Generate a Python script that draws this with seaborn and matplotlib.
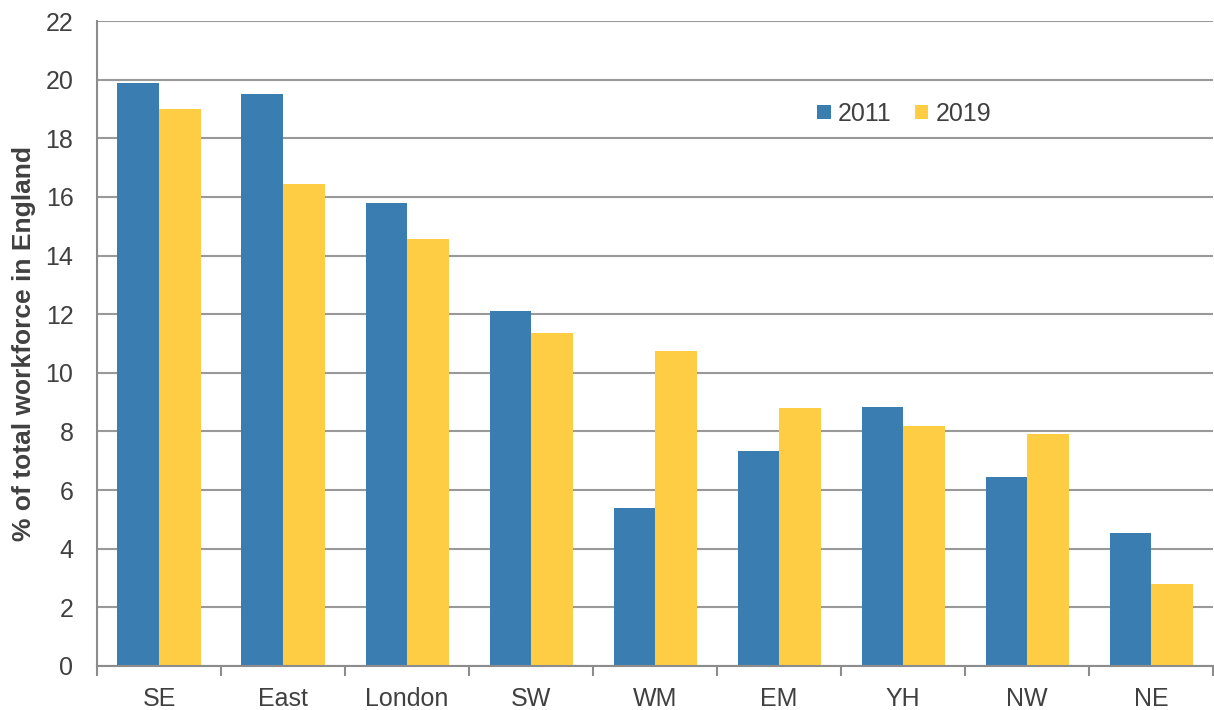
import pandas as pd
import matplotlib.pyplot as plt
import seaborn as sns
from matplotlib.ticker import FixedLocator

# Regions and shares of total workforce (%)
regions = ["SE", "East", "London", "SW", "WM", "EM", "YH", "NW", "NE"]
share_2011 = [19.9, 19.5, 15.8, 12.1, 5.4, 7.35, 8.85, 6.45, 4.55]
share_2019 = [19.0, 16.45, 14.55, 11.35, 10.75, 8.8, 8.2, 7.9, 2.8]
years = ["2011", "2019"]
y_ticks = list(range(0, 23, 2))

colors = {"2011": "#3A7DB1", "2019": "#FFCD44"}
text_col = "#404040"
line_col = "#8C8C8C"


def main():
    df = pd.DataFrame({"region": regions * 2,
                       "year": [years[0]] * len(regions) + [years[1]] * len(regions),
                       "value": share_2011 + share_2019})

    sns.set_style("white")
    plt.rcParams["font.family"] = ["Liberation Sans", "DejaVu Sans"]

    fig = plt.figure(figsize=(12.14, 7.10), dpi=100)
    ax = fig.add_axes([0.0799, 0.062, 0.9195, 0.9084])

    sns.barplot(data=df, x="region", y="value", hue="year", palette=colors,
                width=0.67, gap=0, saturation=1, linewidth=0, ax=ax, legend=True)

    ax.set_xlim(-0.5, len(regions) - 0.5)
    ax.set_ylim(0, 22)
    ax.set_yticks(y_ticks)
    ax.yaxis.grid(True, color="#999999", linewidth=1.5)
    ax.set_axisbelow(True)

    # tick marks sit on the category boundaries
    ax.xaxis.set_minor_locator(FixedLocator([i - 0.5 for i in range(len(regions) + 1)]))
    ax.tick_params(axis="x", which="major", length=0, pad=15, labelsize=18, labelcolor=text_col)
    ax.tick_params(axis="x", which="minor", length=7, width=1.5, color=line_col, direction="out")
    ax.tick_params(axis="y", length=7, width=1.5, color=line_col, direction="out",
                   labelsize=18, labelcolor=text_col, pad=10)
    ax.tick_params(axis="x", which="both", bottom=True)

    for side in ["top", "right"]:
        ax.spines[side].set_visible(False)
    for side in ["left", "bottom"]:
        ax.spines[side].set_color(line_col)
        ax.spines[side].set_linewidth(1.5)

    ax.set_xlabel("")
    ax.set_ylabel("% of total workforce in England", fontsize=19, fontweight="bold",
                  color=text_col, labelpad=7)

    ax.legend(title=None, frameon=False, ncol=2, loc="center left",
              bbox_to_anchor=(0.673, 0.8394), bbox_transform=fig.transFigure,
              fontsize=18, handlelength=0.55, handleheight=0.5, handletextpad=0.28,
              columnspacing=0.92, borderpad=0, borderaxespad=0, labelcolor=text_col)

    fig.savefig("out.png", dpi=100, facecolor="white")
    plt.close(fig)


if __name__ == "__main__":
    main()
